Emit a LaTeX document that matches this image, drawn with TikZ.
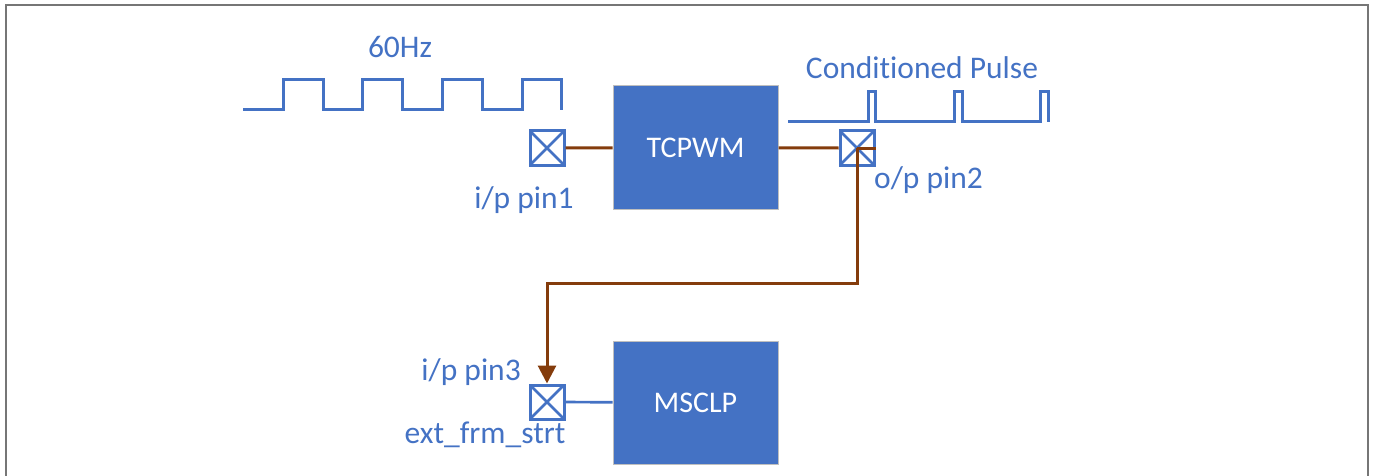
\documentclass[tikz,border=0pt]{standalone}
\usepackage{fontspec}
\setmainfont{Carlito}[Ligatures=NoCommon]
\usetikzlibrary{positioning,arrows.meta,calc}
\definecolor{ppblue}{HTML}{4472C4}
\definecolor{ppbrown}{HTML}{843C0C}
\definecolor{ppframe}{HTML}{767676}

\begin{document}
\begin{tikzpicture}[x=1pt, y=-1pt, >={Triangle[width=18pt,length=18pt]},
    label text/.style={text=ppblue, font=\fontsize{31.5}{36}\selectfont, inner sep=0pt},
    block/.style={fill=ppblue, draw=black!25, line width=1pt, minimum width=165pt,
        minimum height=123pt, text=white, font=\fontsize{30}{35}\selectfont},
    iopin/.style={draw=ppblue, fill=white, line width=3pt, minimum size=34pt, inner sep=0pt,
        path picture={\draw[ppblue, line width=2.7pt]
            (path picture bounding box.north west) -- (path picture bounding box.south east)
            (path picture bounding box.south west) -- (path picture bounding box.north east);}},
    wave/.style={draw=ppblue, line width=3pt},
    wire/.style={draw=ppbrown, line width=3pt}]
    \useasboundingbox (0,0) rectangle (1375,476);

    % Frame, open at the bottom
    \draw[ppframe, line width=2.2pt] (6,476) -- (6,5) -- (1368,5) -- (1368,476);

    % Blocks
    \node[block] (tcpwm) at (695.5,147.5) {TCPWM};
    \node[block] (msclp) at (695.5,402.5) {MSCLP};

    % Pins
    \node[iopin] (pin1) at (547,148) {};
    \node[iopin] (pin2) at (857,148) {};
    \node[iopin] (pin3) at (547,402) {};

    % Pin labels
    \node[label text] (pin1lbl) at (524,200) {i/p pin1};
    \node[label text, anchor=west] (pin2lbl) at (874,180) {o/p pin2};
    \node[label text, anchor=east] (pin3lbl) at (521,372) {i/p pin3};
    \node[label text] (extlbl) at (485,435) {ext\_frm\_strt};

    % Input 60Hz square wave
    \node[label text] (hzlbl) at (400,47) {60Hz};
    \draw[wave] (243,110) -- (283,110) -- (283,80) -- (323,80) -- (323,110)
        -- (362,110) -- (362,80) -- (402,80) -- (402,110)
        -- (442,110) -- (442,80) -- (482,80) -- (482,110)
        -- (522,110) -- (522,80) -- (561,80) -- (561,110);

    % Conditioned pulse train
    \node[label text] (pulselbl) at (922,68) {Conditioned Pulse};
    \draw[wave] (788,122) -- (868,122) -- (868,92) -- (875,92) -- (875,122)
        -- (954,122) -- (954,92) -- (962,92) -- (962,122)
        -- (1040,122) -- (1040,92) -- (1048,92) -- (1048,122);

    % Connections
    \draw[wire] (pin1) -- (tcpwm);
    \draw[wire] (tcpwm) -- (pin2.west);
    \draw[wire] (pin2.center) -- (pin2.east);
    \draw[wire, ->] (pin2.center) |- (547,283) -- (pin3.north);
    \draw[ppblue, line width=2.7pt] (pin3) -- (msclp);
\end{tikzpicture}
\end{document}
